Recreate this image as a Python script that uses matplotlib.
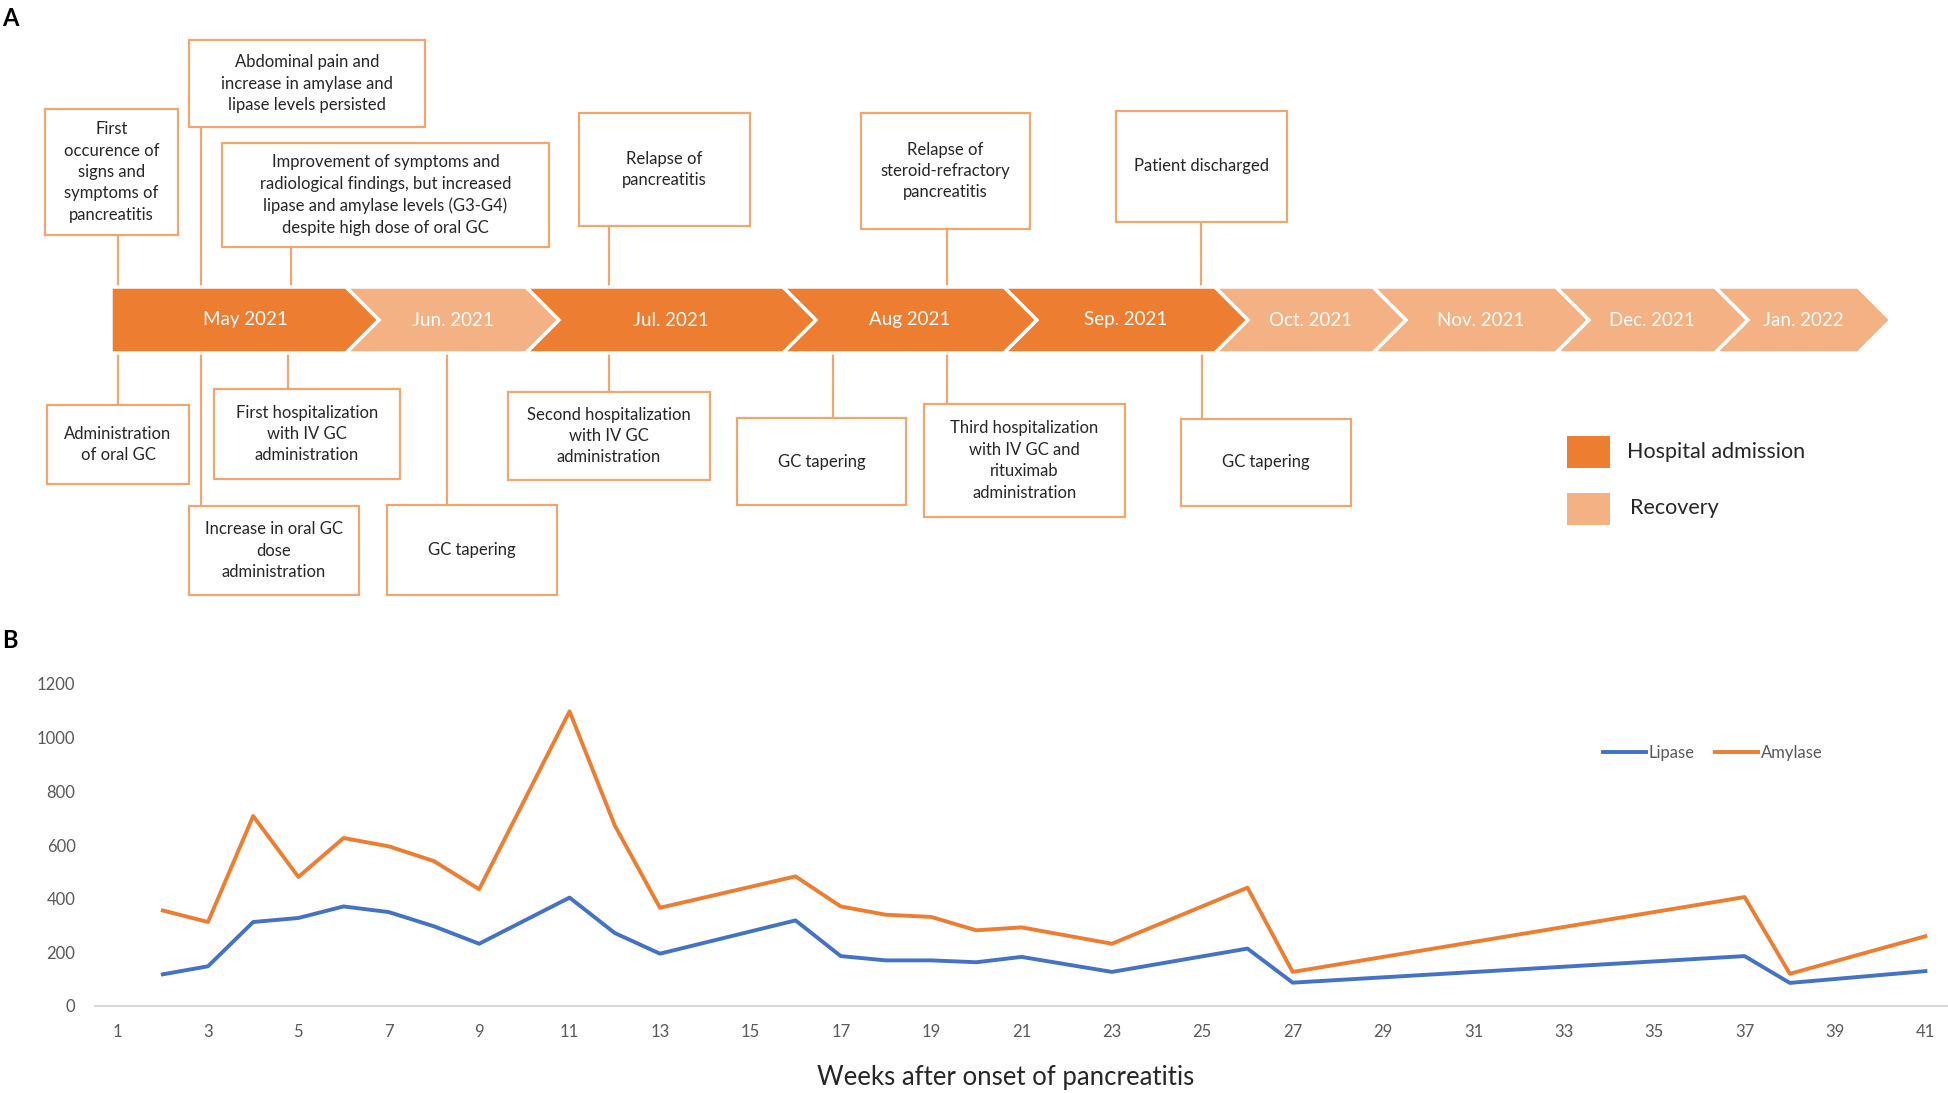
import matplotlib.pyplot as plt
from matplotlib.patches import Polygon, Rectangle

plt.rcParams['font.family'] = ['Lato', 'DejaVu Sans']

# ---- data ----
months = ['May 2021', 'Jun. 2021', 'Jul. 2021', 'Aug 2021', 'Sep. 2021',
          'Oct. 2021', 'Nov. 2021', 'Dec. 2021', 'Jan. 2022']
phases = ['admission', 'recovery', 'admission', 'admission', 'admission',
          'recovery', 'recovery', 'recovery', 'recovery']

events_above = [
    'First\noccurence of\nsigns and\nsymptoms of\npancreatitis',
    'Abdominal pain and\nincrease in amylase and\nlipase levels persisted',
    'Improvement of symptoms and\nradiological findings, but increased\nlipase and amylase levels (G3-G4)\ndespite high dose of oral GC',
    'Relapse of\npancreatitis',
    'Relapse of\nsteroid-refractory\npancreatitis',
    'Patient discharged',
]
events_below = [
    'Administration\nof oral GC',
    'Increase in oral GC\ndose\nadministration',
    'First hospitalization\nwith IV GC\nadministration',
    'GC tapering',
    'Second hospitalization\nwith IV GC\nadministration',
    'GC tapering',
    'Third hospitalization\nwith IV GC and\nrituximab\nadministration',
    'GC tapering',
]

weeks = [2, 3, 4, 5, 6, 7, 8, 9, 11, 12, 13, 16, 17, 18, 19, 20, 21, 23, 26, 27, 37, 38, 41]
lipase = [118, 148, 313, 328, 371, 350, 297, 232, 404, 272, 195, 319, 186, 170, 170, 163,
          183, 127, 214, 87, 186, 86, 130]
amylase = [356, 313, 708, 481, 626, 595, 540, 435, 1098, 673, 366, 483, 371, 340, 332, 282,
           293, 232, 441, 127, 406, 120, 260]

# ---- layout (pixel coordinates of panel A) ----
W, H = 1949, 1093
band_top, band_bot = 287, 353
band_left = 111
seg_right = [346, 526, 783, 1004, 1215, 1373, 1556, 1715, 1858]
depth = 33
# (x0, y0, x1, y1, connector x)
boxes_above = [(45, 109, 178, 235, 118), (189, 40, 425, 127, 201),
               (222, 143, 549, 247, 291), (579, 113, 750, 226, 609),
               (861, 113, 1030, 229, 947), (1116, 111, 1287, 222, 1201)]
boxes_below = [(47, 405, 189, 484, 118), (189, 506, 359, 595, 201),
               (214, 389, 400, 479, 288), (387, 505, 557, 595, 447),
               (508, 392, 710, 480, 609), (737, 418, 906, 505, 833),
               (924, 404, 1125, 517, 947), (1181, 419, 1351, 506, 1202)]

dark = '#ED7D31'
light = '#F4B183'
edge = '#F2A66E'
txt = '#262626'

fig = plt.figure(figsize=(W / 100, H / 100), dpi=100)

ax = fig.add_axes([0, 0, 1, 1])
ax.set_xlim(0, W)
ax.set_ylim(H, 0)
ax.axis('off')

# chevron band
mid = (band_top + band_bot) / 2
left = band_left
for i, (m, ph, r) in enumerate(zip(months, phases, seg_right)):
    notch = 0 if i == 0 else depth
    pts = [(left, band_top), (r, band_top), (r + depth, mid), (r, band_bot),
           (left, band_bot), (left + notch, mid)]
    ax.add_patch(Polygon(pts, closed=True, fc=dark if ph == 'admission' else light,
                         ec='white', lw=2.5, zorder=2))
    ax.text((left + r + depth) / 2, mid, m, color='white', fontsize=13.5,
            ha='center', va='center', zorder=3)
    left = r

def draw_box(b, label, above):
    x0, y0, x1, y1, cx = b
    ax.add_patch(Rectangle((x0, y0), x1 - x0, y1 - y0, fc='white', ec=edge, lw=1.6, zorder=4))
    ax.text((x0 + x1) / 2, (y0 + y1) / 2, label, ha='center', va='center',
            multialignment='center', fontsize=12, color=txt, linespacing=1.42, zorder=5)
    if above:
        ax.plot([cx, cx], [y1, band_top], color=edge, lw=1.6, zorder=1)
    else:
        ax.plot([cx, cx], [band_bot, y0], color=edge, lw=1.6, zorder=1)

for b, t in zip(boxes_above, events_above):
    draw_box(b, t, True)
for b, t in zip(boxes_below, events_below):
    draw_box(b, t, False)

# legend panel A
ax.add_patch(Rectangle((1567, 436), 43, 32, fc=dark, ec='none'))
ax.add_patch(Rectangle((1567, 493), 43, 32, fc=light, ec='none'))
ax.text(1627, 452, 'Hospital admission', fontsize=15.5, color=txt, va='center')
ax.text(1630, 508, 'Recovery', fontsize=15.5, color=txt, va='center')

ax.text(2, 19, 'A', fontsize=17, fontweight='bold', va='center', color='black')
ax.text(2, 641, 'B', fontsize=17, fontweight='bold', va='center', color='black')

# ---- panel B ----
axb = fig.add_axes([95 / W, 1 - 1006 / H, (1948 - 95) / W, (1006 - 684) / H])
axb.patch.set_alpha(0)
axb.plot(weeks, lipase, color='#4472C4', lw=2.8, label='Lipase', solid_joinstyle='round')
axb.plot(weeks, amylase, color='#ED7D31', lw=2.8, label='Amylase', solid_joinstyle='round')
axb.set_xlim(0.5, 41.5)
axb.set_ylim(0, 1200)
axb.set_xticks(range(1, 42, 2))
axb.set_yticks(range(0, 1201, 200))
for s in ['top', 'right', 'left']:
    axb.spines[s].set_visible(False)
axb.spines['bottom'].set_color('#D9D9D9')
axb.spines['bottom'].set_linewidth(1.5)
axb.tick_params(axis='both', length=0, labelsize=12, labelcolor='#595959')
axb.tick_params(axis='y', pad=14)
axb.tick_params(axis='x', pad=13)

axb.legend(loc='center left', bbox_to_anchor=(1588 / W, 1 - 753 / H),
           bbox_transform=fig.transFigure, ncol=2, frameon=False, fontsize=12,
           handlelength=2.6, handletextpad=0.15, columnspacing=1.2,
           labelcolor='#595959')

fig.text(1006 / W, 1 - 1077 / H, 'Weeks after onset of pancreatitis', fontsize=18.5,
         color=txt, ha='center', va='center')

fig.savefig('out.png', dpi=100)
